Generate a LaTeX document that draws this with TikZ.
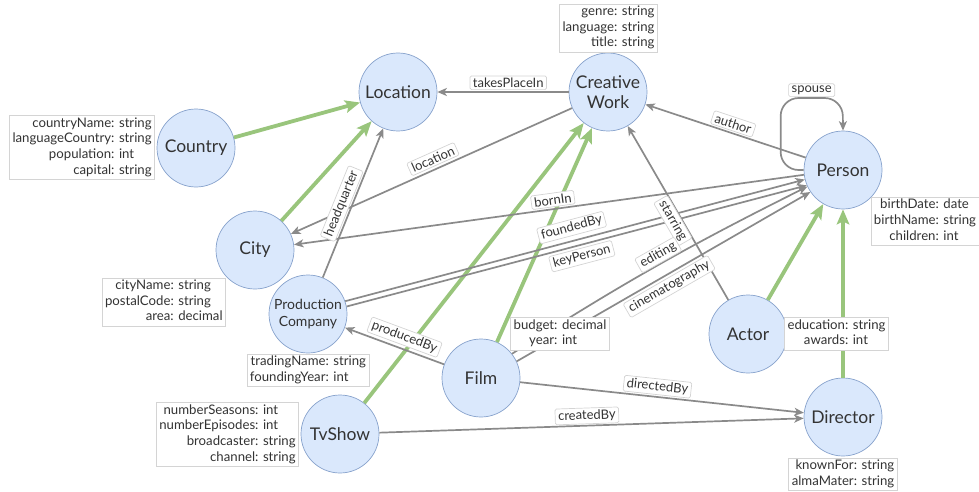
\documentclass[tikz,border=0pt]{standalone}
\usepackage{fontspec}
\setmainfont{Lato}
\usetikzlibrary{arrows.meta}

\definecolor{nodefill}{HTML}{DAE8FC}
\definecolor{nodeline}{HTML}{87A2CC}
\definecolor{inherit}{HTML}{99C57C}
\definecolor{relline}{HTML}{8A8A8A}
\definecolor{boxline}{HTML}{D4D4D4}
\definecolor{txt}{HTML}{333333}

\tikzset{
  entity/.style={circle, draw=nodeline, line width=0.7pt, fill=nodefill,
    minimum size=78pt, inner sep=0pt, text=txt, align=center,
    font=\fontsize{17.5}{20.5}\selectfont},
  smallentity/.style={entity, font=\fontsize{14}{17}\selectfont},
  props/.style={draw=boxline, line width=0.7pt, fill=white, text=txt,
    inner xsep=3pt, inner ysep=0.5pt, font=\fontsize{13.2}{15.7}\selectfont},
  rel/.style={draw=relline, line width=1.7pt,
    -{Stealth[length=9.5pt,width=8pt,inset=2.5pt]}},
  isa/.style={draw=inherit, line width=3.8pt,
    -{Stealth[length=15pt,width=12.5pt,inset=3pt]}},
  lbl/.style={draw=boxline, fill=white, line width=0.7pt, rounded corners=1.5pt,
    inner xsep=3pt, inner ysep=2pt, text=txt, sloped,
    font=\fontsize{13}{15}\selectfont},
}

\newcommand{\attrs}[1]{\begin{tabular}{@{}r@{: }l@{}}#1\end{tabular}}

\begin{document}
\begin{tikzpicture}[x=1pt,y=-1pt]
\useasboundingbox (0,0) rectangle (979,492);

% entities
\node[entity] (location) at (398,92) {Location};
\node[entity] (cw)       at (608,92) {Creative\\Work};
\node[entity] (country)  at (196,148) {Country};
\node[entity] (city)     at (255,250) {City};
\node[smallentity] (pc)  at (308,314) {Production\\Company};
\node[entity] (person)   at (843,170) {Person};
\node[entity] (actor)    at (748,334) {Actor};
\node[entity] (director) at (843,417) {Director};
\node[entity] (film)     at (481,378) {Film};
\node[entity] (tvshow)   at (340,434) {TvShow};

% subclass links
\draw[isa] (country) -- (location);
\draw[isa] (city) -- (location);
\draw[isa] (tvshow) -- (cw);
\draw[isa] (film) -- (cw);
\draw[isa] (actor) -- (person);
\draw[isa] (director) -- (person);

% relations
\draw[rel] (cw) -- node[lbl, pos=0.48, above=3pt] {location} (city);
\draw[rel] (person.187) -- node[lbl, pos=0.49, above=2pt] {bornIn} (city);
\draw[rel] (pc) -- node[lbl, pos=0.47, above=2pt] {headquarter} (location);
\draw[rel] (pc.19) -- node[lbl, pos=0.5, above=5pt] {foundedBy} (person.194);
\draw[rel] (pc.11) -- node[lbl, pos=0.505, below=3pt] {keyPerson} (person.203);
\draw[rel] (actor) -- node[lbl, pos=0.48, below=0pt] {starring} (cw);
\draw[rel] (film.38) to[bend left=3] node[lbl, pos=0.52, above=0.5pt] {editing} (person.205);
\draw[rel] (film.25) -- node[lbl, pos=0.5, below=3pt] {cinematography} (person.214);
\draw[rel] (film) -- node[lbl, pos=0.44, above=3.5pt] {producedBy} (pc);
\draw[rel] (film) -- node[lbl, pos=0.48, above=2pt] {directedBy} (director);
\draw[rel] (tvshow) -- node[lbl, pos=0.49, above=1.5pt] {createdBy} (director);
\draw[rel] (person) -- node[lbl, pos=0.47, above=2pt] {author} (cw);
\draw[rel] (cw) -- node[lbl, pos=0.46, above=2pt] {takesPlaceIn} (location);
\draw[rel, rounded corners=18pt] (person.west) -- ++(-23,0) -- ++(0,-72)
  -- node[lbl, midway, above=1pt] {spouse} ++(62,0) -- (person.north);

% attribute boxes
\node[props, anchor=east] (country-attrs) at (155,147.5)
  {\attrs{countryName & string\\ languageCountry & string\\ population & int\\ capital & string}};
\node[props] (cw-attrs) at (608.5,28)
  {\attrs{genre & string\\ language & string\\ title & string}};
\node[props] (person-attrs) at (925,221.5)
  {\attrs{birthDate & date\\ birthName & string\\ children & int}};
\node[props, anchor=east] (city-attrs) at (226,302)
  {\attrs{cityName & string\\ postalCode & string\\ area & decimal}};
\node[props] (pc-attrs) at (308,370.5)
  {\attrs{tradingName & string\\ foundingYear & int}};
\node[props, anchor=east] (tvshow-attrs) at (299,434.5)
  {\attrs{numberSeasons & int\\ numberEpisodes & int\\ broadcaster & string\\ channel & string}};
\node[props] (film-attrs) at (560,334)
  {\attrs{budget & decimal\\ year & int}};
\node[props] (actor-attrs) at (836.5,334)
  {\attrs{education & string\\ awards & int}};
\node[props] (director-attrs) at (843,474.5)
  {\attrs{knownFor & string\\ almaMater & string}};
\end{tikzpicture}
\end{document}
